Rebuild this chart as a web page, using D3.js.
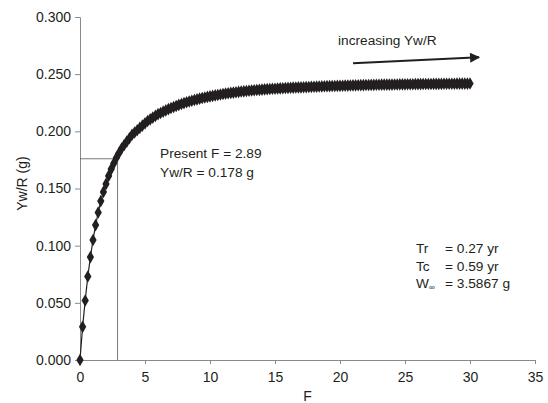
<!DOCTYPE html>
<html>
<head>
<meta charset="utf-8">
<script src="https://cdn.jsdelivr.net/npm/d3@7"></script>
<style>
  body { margin: 0; background: #fff; }
  text { font-family: "Liberation Sans", Arial, sans-serif; fill: #231f20; }
</style>
</head>
<body>
<svg id="chart"></svg>
<script>
// constants
const width = 548;
const height = 403;
const margin = { left: 80, right: 13, top: 17, bottom: 43 };

// fishing mortality grid (step 0.2, 0 -> 30)
const fValues = d3.range(0, 30.0001, 0.2);
// yield per recruit, one value per F step
const ywr = [
  0, 0.029, 0.052, 0.073, 0.090, 0.105, 0.118, 0.129, 0.139, 0.147,
  0.154, 0.161, 0.167, 0.172, 0.177, 0.181, 0.185, 0.188, 0.191, 0.194,
  0.197, 0.199, 0.201, 0.203, 0.205, 0.207,
  0.209, 0.2105, 0.212, 0.2135, 0.215, 0.216, 0.2172, 0.2183, 0.2194, 0.2204,
  0.2213, 0.2222, 0.2231, 0.2239, 0.2247, 0.2254, 0.2261, 0.2268, 0.2274, 0.2280,
  0.2286, 0.2291, 0.2296, 0.2301, 0.2306,
  0.2310, 0.2314, 0.2318, 0.2322, 0.2326, 0.2330, 0.2333, 0.2336, 0.2339, 0.2342,
  0.2345, 0.2348, 0.2350, 0.2353, 0.2355, 0.2357, 0.2359, 0.2361, 0.2363, 0.2365,
  0.2367, 0.2369, 0.2370, 0.2372, 0.2373,
  0.2375, 0.2376, 0.2377, 0.2379, 0.2380, 0.2381, 0.2382, 0.2383, 0.2384, 0.2385,
  0.2386, 0.2387, 0.2388, 0.2389, 0.2390, 0.2391, 0.2392, 0.2393, 0.2394, 0.2395,
  0.2395, 0.2396, 0.2397, 0.2398, 0.2398,
  0.2399, 0.2400, 0.2400, 0.2401, 0.2402, 0.2402, 0.2403, 0.2404, 0.2404, 0.2405,
  0.2405, 0.2406, 0.2406, 0.2407, 0.2407, 0.2408, 0.2408, 0.2409, 0.2409, 0.2409,
  0.2410, 0.2410, 0.2411, 0.2411, 0.2411,
  0.2412, 0.2412, 0.2412, 0.2413, 0.2413, 0.2413, 0.2414, 0.2414, 0.2414, 0.2414,
  0.2415, 0.2415, 0.2415, 0.2415, 0.2416, 0.2416, 0.2416, 0.2416, 0.2416, 0.2417,
  0.2417, 0.2417, 0.2417, 0.2417, 0.2418
];

const xTicks = [0, 5, 10, 15, 20, 25, 30, 35];
const yTicks = [0, 0.05, 0.10, 0.15, 0.20, 0.25, 0.30];

// present state marker
const presentF = 2.89;
const presentY = 0.176;
const presentLabels = ["Present F = 2.89", "Yw/R = 0.178 g"];

// arrow (F, Yw/R) start and end
const arrowFrom = [21, 0.2595];
const arrowTo = [30.7, 0.2648];
const arrowLabel = "increasing Yw/R";

// parameter block
const paramNames = ["Tr", "Tc", "W"];
const paramValues = ["= 0.27 yr", "= 0.59 yr", "= 3.5867 g"];

const svg = d3.select('svg#chart').attr('width', width).attr('height', height);

const x = d3.scaleLinear().domain([0, 35]).range([margin.left, width - margin.right]);
const y = d3.scaleLinear().domain([0, 0.3]).range([height - margin.bottom, margin.top]);

const axisColor = "#8a8a8a";
const fontFam = '"Liberation Sans", Arial, sans-serif';

// axes
const xAxis = svg.append("g")
  .attr("transform", `translate(0,${height - margin.bottom})`)
  .call(d3.axisBottom(x).tickValues(xTicks).tickSize(4).tickPadding(6).tickFormat(d3.format("d")));
const yAxis = svg.append("g")
  .attr("transform", `translate(${margin.left},0)`)
  .call(d3.axisLeft(y).tickValues(yTicks).tickSize(5).tickPadding(4).tickFormat(d3.format(".3f")));

[xAxis, yAxis].forEach(a => {
  a.select(".domain").attr("stroke", axisColor);
  a.selectAll(".tick line").attr("stroke", axisColor);
  a.selectAll(".tick text").attr("font-size", 14).attr("fill", "#231f20").attr("font-family", fontFam);
});
xAxis.selectAll(".tick text").attr("dy", "0.85em");

// axis titles
svg.append("text").attr("x", x(17.5)).attr("y", 401).attr("text-anchor", "middle")
  .attr("font-size", 14).text("F");
svg.append("text")
  .attr("transform", `translate(27,${(margin.top + height - margin.bottom) / 2 - 5}) rotate(-90)`)
  .attr("text-anchor", "middle").attr("font-size", 14).text("Yw/R (g)");

// crosshair for present F
svg.append("line")
  .attr("x1", x(0)).attr("x2", x(presentF))
  .attr("y1", y(presentY)).attr("y2", y(presentY))
  .attr("stroke", "#555").attr("stroke-width", 0.8);
svg.append("line")
  .attr("x1", x(presentF)).attr("x2", x(presentF))
  .attr("y1", y(presentY)).attr("y2", y(0))
  .attr("stroke", "#555").attr("stroke-width", 0.8);

// curve
const pts = fValues.map((f, i) => [f, ywr[i]]);
svg.append("path").datum(pts)
  .attr("fill", "none").attr("stroke", "#231f20").attr("stroke-width", 1.2)
  .attr("d", d3.line().x(d => x(d[0])).y(d => y(d[1])));

const diamond = d3.symbol().type(d3.symbolDiamond).size(46);
svg.append("g").selectAll("path").data(pts).join("path")
  .attr("transform", d => `translate(${x(d[0])},${y(d[1])})`)
  .attr("d", diamond)
  .attr("fill", "#231f20");

// arrow
svg.append("defs").append("marker")
  .attr("id", "arrowhead").attr("viewBox", "0 0 10 10")
  .attr("refX", 9).attr("refY", 5)
  .attr("markerWidth", 6.5).attr("markerHeight", 5)
  .attr("markerUnits", "strokeWidth")
  .attr("orient", "auto")
  .append("path").attr("d", "M0,0 L10,5 L0,10 Z").attr("fill", "#231f20");
svg.append("line")
  .attr("x1", x(arrowFrom[0])).attr("y1", y(arrowFrom[1]))
  .attr("x2", x(arrowTo[0])).attr("y2", y(arrowTo[1]))
  .attr("stroke", "#231f20").attr("stroke-width", 2)
  .attr("marker-end", "url(#arrowhead)");
svg.append("text").attr("x", 338).attr("y", 45).attr("font-size", 13.7).text(arrowLabel);

// present labels
svg.selectAll(".present").data(presentLabels).join("text")
  .attr("class", "present")
  .attr("x", 160).attr("y", (d, i) => 158 + i * 19)
  .attr("font-size", 13.7).text(d => d);

// parameter block
const params = svg.append("g");
paramNames.forEach((n, i) => {
  const t = params.append("text").attr("x", 416).attr("y", 253 + i * 17.5).attr("font-size", 13.7).text(n);
  if (n === "W") {
    t.append("tspan").attr("font-size", 8).attr("dy", 2).text("∞");
  }
  params.append("text").attr("x", 445).attr("y", 253 + i * 17.5).attr("font-size", 13.7).text(paramValues[i]);
});
</script>
</body>
</html>
